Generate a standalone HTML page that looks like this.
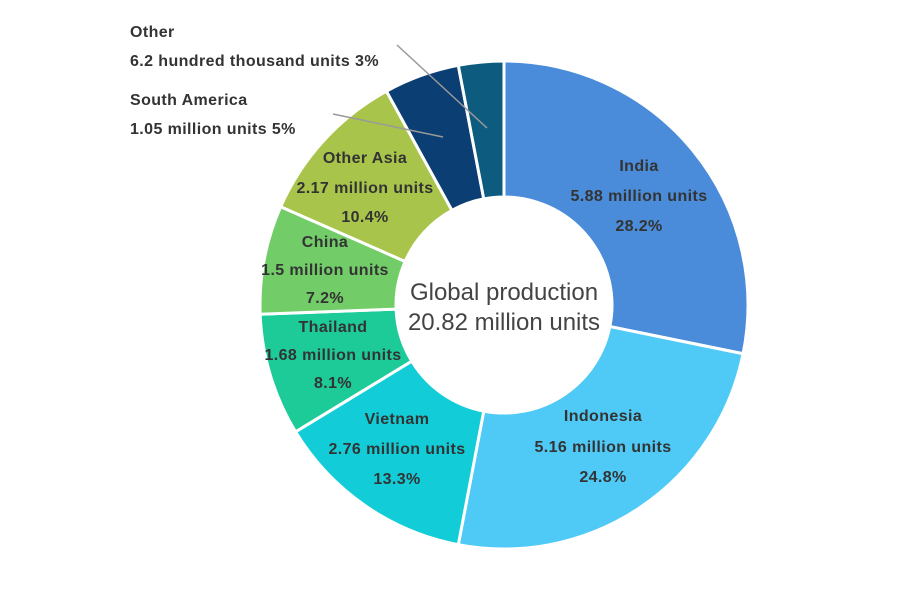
<!DOCTYPE html>
<html><head><style>
body{margin:0;background:#fff;}
svg{display:block;font-family:"Liberation Sans",sans-serif;}
.l{font-weight:bold;font-size:16px;letter-spacing:0.4px;fill:#333;text-anchor:middle}
.o{font-weight:bold;font-size:16px;letter-spacing:0.4px;fill:#333}
</style></head><body>
<svg id="s" width="900" height="608" viewBox="0 0 900 608">
<g id="g"></g>
<line x1="397" y1="45" x2="487" y2="128" stroke="#999" stroke-width="1.5"/>
<line x1="333" y1="114" x2="443" y2="137" stroke="#999" stroke-width="1.5"/>
<text class="o" x="130" y="37">Other</text>
<text class="o" x="130" y="66">6.2 hundred thousand units 3%</text>
<text class="o" x="130" y="105">South America</text>
<text class="o" x="130" y="134">1.05 million units 5%</text>
<text class="l" x="639" y="171">India</text>
<text class="l" x="639" y="201">5.88 million units</text>
<text class="l" x="639" y="231">28.2%</text>
<text class="l" x="603" y="421">Indonesia</text>
<text class="l" x="603" y="452">5.16 million units</text>
<text class="l" x="603" y="482">24.8%</text>
<text class="l" x="397" y="424">Vietnam</text>
<text class="l" x="397" y="454">2.76 million units</text>
<text class="l" x="397" y="484">13.3%</text>
<text class="l" x="333" y="332">Thailand</text>
<text class="l" x="333" y="360">1.68 million units</text>
<text class="l" x="333" y="388">8.1%</text>
<text class="l" x="325" y="247">China</text>
<text class="l" x="325" y="275">1.5 million units</text>
<text class="l" x="325" y="303">7.2%</text>
<text class="l" x="365" y="163">Other Asia</text>
<text class="l" x="365" y="193">2.17 million units</text>
<text class="l" x="365" y="222">10.4%</text>
<text x="504" y="300" font-size="24" fill="#444" text-anchor="middle">Global production</text>
<text x="504" y="330" font-size="24" fill="#444" text-anchor="middle">20.82 million units</text>
</svg>
<script>
var d=[[28.2,"#4a8cd9"],[24.8,"#4fcaf7"],[13.3,"#12cdd8"],[8.1,"#1ccb98"],[7.2,"#72cc68"],[10.4,"#a8c44a"],[5,"#0b3e73"],[3,"#0d5b7f"]];
var cx=504,cy=305,R=244,r=108,a=0,h="";
function p(rad,ang){var t=ang/100*2*Math.PI;return (cx+rad*Math.sin(t)).toFixed(2)+","+(cy-rad*Math.cos(t)).toFixed(2);}
d.forEach(function(s){var b=a+s[0];var L=s[0]>50?1:0;
h+='<path d="M'+p(R,a)+' A'+R+','+R+' 0 '+L+' 1 '+p(R,b)+' L'+p(r,b)+' A'+r+','+r+' 0 '+L+' 0 '+p(r,a)+' Z" fill="'+s[1]+'" stroke="#fff" stroke-width="3"/>';a=b;});
document.getElementById("g").innerHTML=h;
</script>
</body></html>
